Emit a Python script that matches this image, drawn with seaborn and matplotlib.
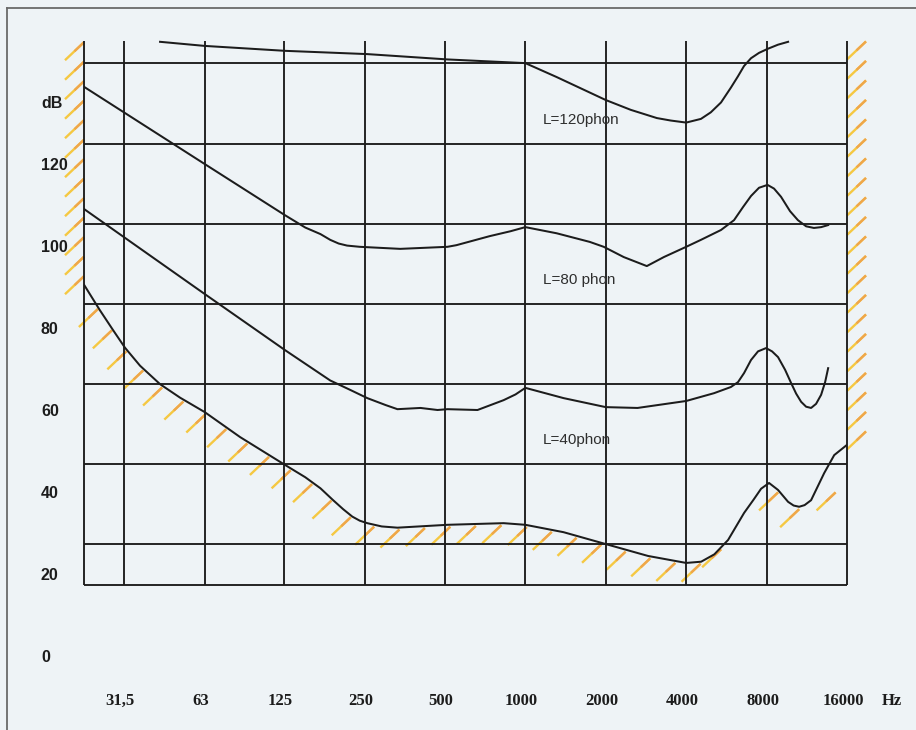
import numpy as np
import pandas as pd
import matplotlib
matplotlib.use("Agg")
import matplotlib.pyplot as plt
import seaborn as sns
from matplotlib.collections import LineCollection
from matplotlib.lines import Line2D
from matplotlib.ticker import NullLocator
from matplotlib.transforms import ScaledTranslation

# ---------------- data ----------------
freq_ticks = [31.5, 63, 125, 250, 500, 1000, 2000, 4000, 8000, 16000]
freq_labels = ["31,5", "63", "125", "250", "500", "1000", "2000", "4000", "8000", "16000"]
db_ticks = [0, 20, 40, 60, 80, 100, 120]
db_labels = ["0", "20", "40", "60", "80", "100", "120"]

# hearing threshold (hatched curve)
thr_freq = [22.3, 25.5, 28.6, 31.7, 36.1, 42.9, 51, 63, 85.5, 126, 150, 171, 190, 208,
            225, 240, 256, 290, 332, 511, 829, 1000, 1390, 2000, 2880, 4000, 4550, 5100,
            5740, 6590, 7163, 7630, 8172, 8830, 9630, 10100, 10590, 11100, 11740, 13140,
            14330, 16000]
thr_db = [90.5, 84.4, 79.5, 75.2, 70.8, 66.3, 63.0, 59.5, 53.4, 46.6, 43.6, 40.9, 38.1, 35.8,
          34.0, 33.0, 32.4, 31.6, 31.3, 32.0, 32.4, 32.0, 30.2, 27.3, 24.4, 22.7, 23.0, 24.8,
          28.3, 34.9, 38.2, 40.8, 42.2, 40.5, 37.6, 36.7, 36.4, 36.8, 38.0, 44.6,
          49.0, 51.5]

# L = 40 phon
p40_freq = [22.3, 63, 126, 186, 221, 256, 300, 332, 405, 469, 511, 662, 829, 919, 1000,
            1390, 2000, 2630, 4000, 5085, 5878, 6253, 6587, 6996, 7431, 7963, 8385, 8830,
            9384, 9880, 10320, 10773, 11249, 11741, 12257, 12800, 13250, 13600]
p40_db = [109.0, 88.3, 74.6, 67.2, 64.9, 62.9, 61.2, 60.2, 60.5, 60.0, 60.2, 60.0, 62.4, 63.8, 65.4,
          62.9, 60.7, 60.5, 62.2, 64.1, 65.6, 66.8, 69.0, 72.2, 74.3, 75.1, 74.3, 72.9,
          69.8, 66.6, 64.0, 62.0, 60.8, 60.5, 61.5, 63.7, 66.8, 70.2]

# L = 80 phon
p80_freq = [22.3, 63, 126, 150, 171, 186, 200, 215, 240, 340, 511, 552, 735, 880, 1000,
            1310, 1742, 1965, 2335, 2849, 3300, 4000, 4543, 5400, 6042, 6530, 6996, 7494,
            8064, 8530, 9060, 9790, 10480, 11250, 12030, 12800, 13600]
p80_db = [138.8, 120.0, 107.5, 104.5, 102.9, 101.5, 100.6, 100.1, 99.8, 99.3, 99.8, 100.2, 102.4, 103.6, 104.6,
          103.1, 101.0, 99.8, 97.3, 95.1, 97.3, 99.8, 101.5, 103.9, 106.3, 109.5, 112.2, 114.2,
          114.9, 114.0, 112.0, 108.5, 106.3, 104.8, 104.4, 104.6, 105.1]

# L = 120 phon
p120_freq = [42.9, 63, 126, 256, 511, 1000, 1310, 2000, 2482, 3107, 3500, 4000, 4543, 4946,
             5400, 5878, 6253, 6587, 6996, 7494, 8087, 8830, 9630]
p120_db = [149.8, 148.8, 147.6, 146.8, 145.5, 144.6, 141.2, 135.6, 133.2, 131.2, 130.6, 130.1, 131.0, 132.6,
           135.0, 138.6, 141.4, 143.9, 145.8, 147.1, 148.1, 149.1, 149.8]

curve_labels = ["L=120phon", "L=80 phon", "L=40phon"]

# ---------------- layout / style ----------------
W, H = 916, 730
BG = "#eef3f6"
INK = "#1c1c1c"
F_LEFT, F_RIGHT = 22.27, 16000
DB_BOTTOM, DB_TOP = -3.9, 150.24
grid_levels = [17.2, 27.2, 46.8, 66.3, 85.9, 105.4, 124.9, 144.6]
grid_top = 149.9
label_pos = [(1161, 130.7), (1161, 91.7), (1161, 52.7)]

plt.rcParams["font.family"] = ["Liberation Sans", "DejaVu Sans"]

fig = plt.figure(figsize=(W / 100, H / 100), dpi=100)
fig.patch.set_facecolor(BG)
ax = fig.add_axes([84 / W, (H - 672) / H, (847 - 84) / W, (672 - 40) / H])
ax.set_facecolor(BG)
ax.set_xscale("log", base=2)
ax.set_xlim(F_LEFT, F_RIGHT)
ax.set_ylim(DB_BOTTOM, DB_TOP)
for s in ax.spines.values():
    s.set_visible(False)

# grid / box
ax.hlines(grid_levels, F_LEFT, F_RIGHT, color=INK, lw=1.35, clip_on=False, zorder=2)
ax.vlines([F_LEFT] + freq_ticks, grid_levels[0], grid_top, color=INK, lw=1.35,
          clip_on=False, zorder=2)

# curves
for fx, dy in [(thr_freq, thr_db), (p40_freq, p40_db), (p80_freq, p80_db), (p120_freq, p120_db)]:
    df = pd.DataFrame({"freq": fx, "level": dy})
    sns.lineplot(data=df, x="freq", y="level", ax=ax, color=INK, lw=1.45,
                 sort=False, estimator=None, zorder=3)

ax.set_xlabel("")
ax.set_ylabel("")

# curve labels
for (fx, lv), txt in zip(label_pos, curve_labels):
    ax.text(fx, lv, txt, ha="left", va="center", fontsize=11, color="#2e2e2e",
            family=["Liberation Sans", "DejaVu Sans"], zorder=4)

# ticks
ax.xaxis.set_minor_locator(NullLocator())
ax.yaxis.set_minor_locator(NullLocator())
ax.set_xticks(freq_ticks, labels=freq_labels)
ax.set_yticks(db_ticks, labels=db_labels)
ax.tick_params(axis="both", length=0)
ax.tick_params(axis="x", pad=15.0)
ax.tick_params(axis="y", pad=31)
shift = ScaledTranslation(-4 / 100, 0, fig.dpi_scale_trans)
for lbl in ax.get_xticklabels():
    lbl.set_fontfamily(["Liberation Serif", "DejaVu Serif"])
    lbl.set_fontweight("bold")
    lbl.set_fontsize(12)
    lbl.set_color(INK)
    lbl.set_transform(lbl.get_transform() + shift)
for lbl in ax.get_yticklabels():
    lbl.set_ha("left")
    lbl.set_fontweight("bold")
    lbl.set_fontsize(11.5)
    lbl.set_color(INK)

fig.text(892 / W, (H - 693) / H, "Hz", ha="center", va="top", fontsize=12,
         fontweight="bold", family=["Liberation Serif", "DejaVu Serif"], color=INK)
fig.text(41 / W, (H - 103) / H, "dB", ha="left", va="center", fontsize=11.5,
         fontweight="bold", color=INK)

# outer frame of the scanned page
fig.add_artist(Line2D([7 / W, 7 / W], [0, (H - 7.5) / H], transform=fig.transFigure,
                      color="#6a6a6a", lw=1.3))
fig.add_artist(Line2D([7 / W, 1], [(H - 7.5) / H, (H - 7.5) / H], transform=fig.transFigure,
                      color="#6a6a6a", lw=1.3))

# ---------------- hatching ----------------
p0 = ax.transData.transform((1000, 0))
p1 = ax.transData.transform((2000, 10))
ppo = p1[0] - p0[0]          # pixels per octave
ppd = (p1[1] - p0[1]) / 10   # pixels per dB
HX, HY = 19, 18              # hatch extent in pixels


def hatch_segments(anchor_f, anchor_db, sx, sy):
    segs = []
    for f, d in zip(anchor_f, anchor_db):
        f2 = f * 2 ** (sx * HX / ppo)
        d2 = d + sy * HY / ppd
        segs.append([(f, d), (f2, d2)])
    return segs


def draw_hatch(segs):
    # two-tone stroke like the scanned highlighter marks
    ax.add_collection(LineCollection(segs, colors="#f5c842", lw=1.7, zorder=1.5,
                                     clip_on=False))
    half = [[s[0], (np.sqrt(s[0][0] * s[1][0]), (s[0][1] + s[1][1]) / 2)] for s in segs]
    ax.add_collection(LineCollection(half, colors="#efa64a", lw=1.7, zorder=1.6,
                                     clip_on=False))


step = 19.5 / ppd
# left border (top-right ends on the border)
left_lv = np.arange(grid_top - 0.2, thr_db[0] - 0.5, -step)
draw_hatch(hatch_segments([F_LEFT] * len(left_lv), left_lv, -1, -1))

# right border: anchored at bottom-left on the border
right_lv = np.arange(grid_top - 4.4, thr_db[-1] - 1.5, -step)
segs_r = hatch_segments([F_RIGHT] * len(right_lv), right_lv, 1, 1)
segs_r = [[s[1], s[0]] for s in segs_r]
draw_hatch(segs_r)

# along the threshold curve (pixel arc-length sampling)
pts = ax.transData.transform(np.column_stack([thr_freq, thr_db]))
seg_len = np.hypot(np.diff(pts[:, 0]), np.diff(pts[:, 1]))
arc = np.concatenate([[0], np.cumsum(seg_len)])
s_samples = np.arange(26, arc[-1], 25.5)
sx_pix = np.interp(s_samples, arc, pts[:, 0])
sy_pix = np.interp(s_samples, arc, pts[:, 1])
keep = sx_pix < ax.transData.transform((5600, 0))[0]
anchors = ax.transData.inverted().transform(np.column_stack([sx_pix[keep], sy_pix[keep] - 2]))
hi_f = np.array([8830, 10590, 14500])
hi_db = np.minimum(np.interp(np.log2(hi_f), np.log2(thr_freq), thr_db), 40.5) - 0.6
draw_hatch(hatch_segments(list(anchors[:, 0]) + list(hi_f),
                          list(anchors[:, 1]) + list(hi_db), -1, -1))

fig.savefig("out.png", dpi=100, facecolor=BG)
